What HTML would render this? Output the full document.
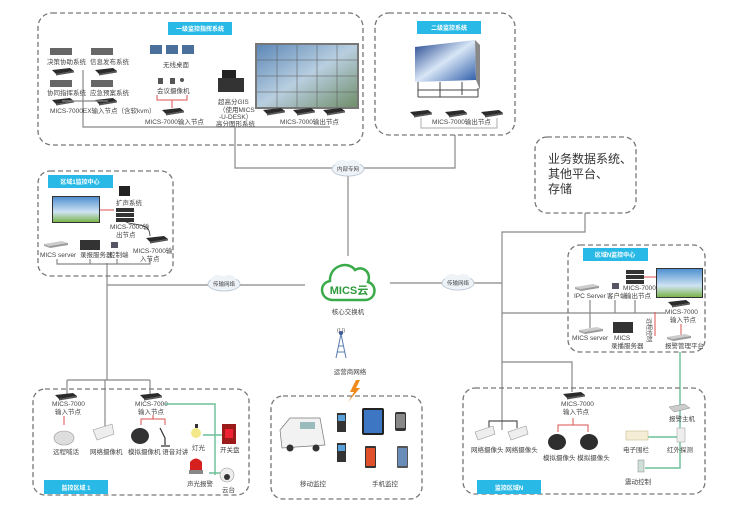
<!DOCTYPE html>
<html><head><meta charset="utf-8"><style>
html,body{margin:0;padding:0;background:#fff;width:750px;height:521px;overflow:hidden}
svg{display:block}
text{font-family:"Liberation Sans","Noto Sans CJK SC",sans-serif;fill:#444;font-size:6.5px}
.b{fill:none;stroke:#777;stroke-width:1.3;stroke-dasharray:5 3}
.l{stroke:#888;stroke-width:1.2;fill:none}
.r{stroke:#d9534f;stroke-width:1;fill:none}
.g{stroke:#6cbf97;stroke-width:1.4;fill:none}
.h{fill:#28b9e6}
.ht{fill:#fff;font-size:6px;font-weight:bold}
.dev{fill:#333}
.nd{fill:#2a2a2a}
</style></head><body>
<svg width="750" height="521" viewBox="0 0 750 521" xmlns="http://www.w3.org/2000/svg">
<defs>
<linearGradient id="wall" x1="0" y1="0" x2="1" y2="1"><stop offset="0" stop-color="#5d88b8"/><stop offset="0.5" stop-color="#b9cfe0"/><stop offset="1" stop-color="#6f8e6a"/></linearGradient>
<linearGradient id="sky" x1="0" y1="0" x2="0" y2="1"><stop offset="0" stop-color="#4f8fd0"/><stop offset="0.6" stop-color="#cfe3f2"/><stop offset="1" stop-color="#7bb54a"/></linearGradient>
<linearGradient id="blue2" x1="0" y1="0" x2="1" y2="1"><stop offset="0" stop-color="#1a3f8a"/><stop offset="0.5" stop-color="#d8e6f6"/><stop offset="1" stop-color="#2a5aa8"/></linearGradient>
<g id="node"><path d="M0 2 L18 0 L22 3 L4 6 Z" fill="#2b2b2b"/><path d="M4 6 L22 3 L22 4.5 L4 7.5Z" fill="#555"/></g>
<g id="srv"><rect x="0" y="0" width="22" height="7" fill="#555"/><rect x="0" y="0" width="22" height="2" fill="#888"/></g>
<g id="lsrv"><path d="M0 3 L18 0 L24 2 L6 5Z" fill="#ccc"/><path d="M6 5 L24 2 L24 4 L6 7Z" fill="#999"/><path d="M0 3 L6 5 L6 7 L0 5Z" fill="#aaa"/></g>
<g id="cloud"><ellipse cx="0" cy="0" rx="16" ry="7" fill="#eef3f8" stroke="#b8c4d0" stroke-width="0.8"/><ellipse cx="-6" cy="-4" rx="7" ry="5" fill="#eef3f8"/><ellipse cx="5" cy="-4" rx="7" ry="5" fill="#eef3f8"/></g>
</defs>

<!-- connector lines -->
<path class="l" d="M235 145 V168 H455 V135"/>
<path class="l" d="M348 168 V256"/>
<path class="l" d="M83 70 V127 H330"/>
<path class="l" d="M235 127 V145"/>
<path class="l" d="M107 263 V380"/>
<path class="l" d="M107 285 H305"/>
<path class="l" d="M390 283 H502"/>
<path class="l" d="M585 213 V232 H502 V430"/>
<path class="l" d="M502 313 H665"/>
<path class="l" d="M502 362 H572 V392"/>
<path class="l" d="M67 380 H150"/>
<path class="l" d="M67 380 V395"/>
<path class="l" d="M105 380 V430"/>
<path class="l" d="M150 380 V395"/>
<path class="g" d="M680 352 V405"/>

<!-- Box 1 -->
<rect class="b" x="38" y="13" width="325" height="132" rx="14"/>
<rect class="h" x="168" y="22" width="64" height="13"/>
<text class="ht" x="200" y="31" text-anchor="middle">一级监控指挥系统</text>
<rect x="50" y="48" width="22" height="7" fill="#666"/><rect x="91" y="48" width="22" height="7" fill="#666"/>
<text x="47" y="64">决策协助系统</text><text x="90" y="64">信息发布系统</text>
<use href="#node" x="52" y="68"/><use href="#node" x="95" y="68"/>
<rect x="50" y="80" width="22" height="7" fill="#666"/><rect x="91" y="80" width="22" height="7" fill="#666"/>
<text x="47" y="95">协同指挥系统</text><text x="90" y="95">应急预案系统</text>
<use href="#node" x="52" y="98"/><use href="#node" x="95" y="98"/>
<path class="l" d="M62 101 H108"/>
<text x="50" y="113">MICS-7000EX输入节点（含软kvm）</text>
<rect x="150" y="45" width="12" height="9" fill="#4a6f9a"/><rect x="166" y="45" width="12" height="9" fill="#4a6f9a"/><rect x="182" y="45" width="12" height="9" fill="#4a6f9a"/>
<text x="163" y="67">无线桌面</text>
<rect x="158" y="78" width="5" height="6" fill="#555"/><rect x="170" y="78" width="5" height="6" fill="#555"/><circle cx="182" cy="80" r="2" fill="#555"/>
<text x="157" y="93">会议摄像机</text>
<path class="r" d="M157 95 V100 H187 V95 M172 100 V108"/>
<use href="#node" x="162" y="108"/>
<text x="145" y="124">MICS-7000输入节点</text>
<rect x="222" y="70" width="14" height="22" fill="#222"/><rect x="218" y="78" width="26" height="14" fill="#333"/>
<text x="218" y="104">超高分GIS</text><text x="219" y="112">（使用MICS</text><text x="219" y="119">-U-DESK）</text><text x="216" y="126">高分图形系统</text>
<rect x="255" y="43" width="104" height="66" fill="#777"/>
<rect x="257" y="45" width="100" height="62" fill="url(#wall)"/>
<path d="M277 45V107M297 45V107M317 45V107M337 45V107M257 60H357M257 76H357M257 92H357" stroke="#555" stroke-width="0.5"/>
<use href="#node" x="263" y="108"/><use href="#node" x="293" y="108"/><use href="#node" x="323" y="108"/>
<text x="280" y="124">MICS-7000输出节点</text>

<!-- Box 2 -->
<rect class="b" x="375" y="13" width="140" height="122" rx="14"/>
<rect class="h" x="417" y="21" width="64" height="13"/>
<text class="ht" x="449" y="30" text-anchor="middle">二级监控系统</text>
<path d="M415 47 L475 40 L476 80 L415 82 Z" fill="url(#blue2)"/>
<path d="M475 40 L480 45 L480 90 L476 80Z" fill="#888"/>
<path d="M418 82 V97 M440 82 V97 M462 82 V95 M478 88 V97 M418 97 H478 M418 90 H478" stroke="#444" stroke-width="1"/>
<use href="#node" x="410" y="110"/><use href="#node" x="445" y="110"/><use href="#node" x="481" y="110"/>
<path class="l" d="M421 118 V128 H497 V118" style="stroke:#bbb"/>
<text x="432" y="124">MICS-7000输出节点</text>

<!-- Box 3 -->
<rect class="b" x="535" y="137" width="101" height="76" rx="12"/>
<text x="548" y="163" style="font-size:12px;fill:#333">业务数据系统、</text>
<text x="548" y="178" style="font-size:12px;fill:#333">其他平台、</text>
<text x="548" y="193" style="font-size:12px;fill:#333">存储</text>

<!-- clouds -->
<use href="#cloud" x="348" y="169"/><text x="348" y="171" text-anchor="middle" style="font-size:5.5px">内部专网</text>
<use href="#cloud" x="224" y="284"/><text x="224" y="286" text-anchor="middle" style="font-size:5.5px">传输网络</text>
<use href="#cloud" x="458" y="283"/><text x="458" y="285" text-anchor="middle" style="font-size:5.5px">传输网络</text>

<!-- MICS cloud -->
<path d="M333 300 C320 300 318 283 330 281 C329 266 348 260 355 270 C362 265 372 272 368 282 C378 285 376 300 365 300 Z" fill="#fff" stroke="#3aaa4a" stroke-width="2.5"/>
<text x="349" y="294" text-anchor="middle" style="font-size:11px;font-weight:bold;fill:#2e9a3c">MICS云</text>
<text x="348" y="314" text-anchor="middle">核心交换机</text>
<path d="M341 334 L336 358 M341 334 L346 358 M338 346 H344 M337 352 H345" stroke="#5a7cb0" stroke-width="1" fill="none"/>
<circle cx="341" cy="333" r="2" fill="#3a5a9a"/>
<text x="341" y="332" text-anchor="middle" style="font-size:5px">(( ))</text>
<text x="350" y="374" text-anchor="middle">运营商网络</text>
<path d="M356 380 L350 392 L354 392 L348 402 L360 388 L356 388 L360 380Z" fill="#f08a1c"/>

<!-- Region 1 center -->
<rect class="b" x="38" y="171" width="135" height="105" rx="12"/>
<rect class="h" x="48" y="175" width="65" height="13"/>
<text class="ht" x="80" y="184" text-anchor="middle">区域1监控中心</text>
<rect x="52" y="196" width="48" height="27" fill="#333"/><rect x="53" y="197" width="46" height="25" fill="url(#sky)"/>
<path class="r" d="M100 210 H114"/>
<rect x="119" y="186" width="11" height="10" fill="#222"/>
<text x="116" y="205">扩声系统</text>
<rect x="116" y="208" width="18" height="4" fill="#333"/><rect x="116" y="213" width="18" height="4" fill="#333"/><rect x="116" y="218" width="18" height="4" fill="#333"/>
<text x="110" y="229">MICS-7000输</text><text x="116" y="237">出节点</text>
<path d="M126 222 C135 226 150 222 150 236" stroke="#333" fill="none" stroke-width="0.8"/>
<use href="#node" x="146" y="236"/>
<text x="133" y="253">MICS-7000输</text><text x="140" y="261">入节点</text>
<use href="#lsrv" x="44" y="241"/>
<rect x="80" y="240" width="20" height="10" fill="#333"/>
<rect x="111" y="242" width="7" height="6" fill="#556"/>
<text x="40" y="257">MICS server</text><text x="80" y="257">录报服务器</text><text x="109" y="257">控制端</text>
<path class="l" d="M57 259 V264 H150 V259 M90 259 V264 M117 259 V264"/>

<!-- Region N center -->
<rect class="b" x="568" y="245" width="137" height="107" rx="12"/>
<rect class="h" x="583" y="248" width="65" height="13"/>
<text class="ht" x="615" y="257" text-anchor="middle">区域N监控中心</text>
<rect x="626" y="270" width="18" height="4" fill="#333"/><rect x="626" y="275" width="18" height="4" fill="#333"/><rect x="626" y="280" width="18" height="4" fill="#333"/>
<path class="r" d="M644 277 H657"/>
<rect x="656" y="268" width="47" height="30" fill="#333"/><rect x="657" y="269" width="45" height="28" fill="url(#sky)"/>
<use href="#lsrv" x="575" y="284"/>
<rect x="612" y="283" width="7" height="6" fill="#556"/>
<text x="623" y="290">MICS-7000</text>
<text x="574" y="298">IPC Server</text><text x="607" y="298">客户端</text><text x="625" y="298">输出节点</text>
<use href="#node" x="668" y="300"/>
<text x="665" y="314">MICS-7000</text><text x="670" y="322">输入节点</text>
<path class="l" d="M615 300 V313 M635 300 V313 M590 300 V328"/>
<use href="#lsrv" x="579" y="327"/>
<rect x="613" y="322" width="20" height="11" fill="#333"/>
<text x="572" y="340">MICS server</text><text x="614" y="340">MICS</text><text x="611" y="348">录播服务器</text>
<text x="647" y="318" style="font-size:6px" transform="rotate(90 647 318)">远程控制</text>
<path class="r" d="M655 312 V336 M681 324 V336"/>
<use href="#lsrv" x="667" y="334"/>
<text x="665" y="348">报警管理平台</text>

<!-- Monitor area 1 -->
<rect class="b" x="33" y="389" width="216" height="106" rx="12"/>
<rect class="h" x="44" y="480" width="64" height="14"/>
<text class="ht" x="76" y="490" text-anchor="middle">监控区域 1</text>
<use href="#node" x="55" y="393"/>
<text x="52" y="406">MICS-7000</text><text x="55" y="414">输入节点</text>
<path class="r" d="M64 416 V425"/>
<ellipse cx="64" cy="438" rx="10" ry="7" fill="#ddd" stroke="#999" stroke-width="0.6"/>
<text x="53" y="454">远程喊话</text>
<path d="M93 430 L112 424 L114 434 L97 440Z" fill="#eee" stroke="#999" stroke-width="0.6"/>
<text x="90" y="454">网络摄像机</text>
<use href="#node" x="140" y="393"/>
<text x="135" y="406">MICS-7000</text><text x="138" y="414">输入节点</text>
<path class="r" d="M141 425 V419 H165 V425 M153 419 V415"/>
<ellipse cx="140" cy="436" rx="9" ry="8" fill="#333"/>
<path d="M160 428 L165 438 V445 M161 446 H170" stroke="#333" stroke-width="1.2" fill="none"/>
<text x="128" y="454">模拟摄像机 语音对讲</text>
<path class="g" d="M165 404 H215 V475 M203 435 H225 M209 473 H225"/>
<circle cx="196" cy="433" r="5" fill="#f3e98a"/><rect x="195" y="424" width="3" height="4" fill="#333"/>
<text x="192" y="450">灯光</text>
<rect x="222" y="424" width="14" height="20" fill="#9b1b1b"/><rect x="225" y="429" width="8" height="9" fill="#e23"/>
<text x="220" y="452">开关盘</text>
<path d="M190 470 V462 Q196 455 202 462 V470Z" fill="#d62020"/><rect x="189" y="470" width="14" height="4" fill="#888"/>
<text x="187" y="486">声光报警</text>
<circle cx="227" cy="475" r="7" fill="#eee" stroke="#999" stroke-width="0.6"/><circle cx="227" cy="477" r="3" fill="#333"/>
<text x="222" y="492">云台</text>

<!-- Mobile box -->
<rect class="b" x="271" y="396" width="151" height="103" rx="12"/>
<path d="M280 430 L290 418 L320 418 L325 445 L282 448 Z" fill="#f2f2f2" stroke="#777" stroke-width="0.7"/>
<circle cx="290" cy="448" r="3.5" fill="#333"/><circle cx="316" cy="448" r="3.5" fill="#333"/>
<rect x="300" y="422" width="15" height="7" fill="#9bb"/>
<rect x="337" y="413" width="9" height="19" fill="#333"/><rect x="338" y="415" width="7" height="6" fill="#5aa0d8"/>
<rect x="337" y="443" width="9" height="19" fill="#333"/><rect x="338" y="445" width="7" height="6" fill="#5aa0d8"/>
<rect x="362" y="408" width="22" height="27" rx="2" fill="#222"/><rect x="364" y="410" width="18" height="23" fill="#3d77c4"/>
<rect x="395" y="412" width="11" height="19" rx="2" fill="#333"/><rect x="396" y="414" width="9" height="14" fill="#888"/>
<rect x="365" y="446" width="11" height="22" rx="1" fill="#333"/><rect x="366" y="448" width="9" height="18" fill="#e0502a"/>
<rect x="397" y="446" width="11" height="22" rx="1" fill="#555"/><rect x="398" y="448" width="9" height="18" fill="#6a8cb8"/>
<text x="300" y="486">移动监控</text><text x="372" y="486">手机监控</text>

<!-- Monitor area N -->
<rect class="b" x="463" y="388" width="242" height="106" rx="12"/>
<rect class="h" x="477" y="480" width="64" height="14"/>
<text class="ht" x="509" y="490" text-anchor="middle">监控区域N</text>
<path class="l" d="M489 428 V421 H517 V428" style="stroke:#555"/>
<path d="M475 432 L493 426 L495 434 L478 440Z" fill="#eee" stroke="#999" stroke-width="0.6"/>
<path d="M508 432 L526 426 L528 434 L511 440Z" fill="#eee" stroke="#999" stroke-width="0.6"/>
<text x="471" y="452">网络摄像头 网络摄像头</text>
<use href="#node" x="563" y="392"/>
<text x="561" y="406">MICS-7000</text><text x="563" y="414">输入节点</text>
<path class="r" d="M558 432 V425 H588 V432 M573 425 V418"/>
<ellipse cx="557" cy="442" rx="9" ry="8" fill="#2e2e2e"/><ellipse cx="589" cy="442" rx="9" ry="8" fill="#2e2e2e"/>
<text x="543" y="460">模拟摄像头 模拟摄像头</text>
<path class="g" d="M680 405 V431 M648 437 H680 M680 431 V468 H645"/>
<path d="M669 407 L684 404 L690 408 L674 412Z" fill="#ccc" stroke="#888" stroke-width="0.5"/>
<text x="669" y="421">报警主机</text>
<rect x="626" y="431" width="22" height="9" fill="#f6edd6" stroke="#c9b98a" stroke-width="0.6"/>
<rect x="677" y="428" width="8" height="14" fill="#eee" stroke="#999" stroke-width="0.5"/>
<text x="623" y="452">电子围栏</text><text x="667" y="452">红外探测</text>
<rect x="638" y="460" width="6" height="12" fill="#cfe0d8" stroke="#888" stroke-width="0.5"/>
<text x="625" y="484">震动控制</text>
</svg>
</body></html>
